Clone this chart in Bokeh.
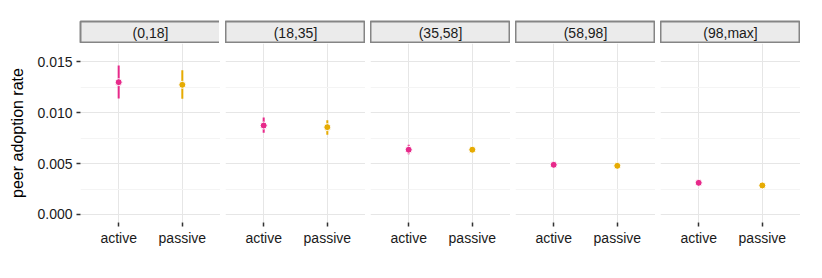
from bokeh.plotting import figure
from bokeh.layouts import gridplot
from bokeh.models import (ColumnDataSource, FactorRange, Range1d, FixedTicker,
                          NumeralTickFormatter)
from bokeh.core.properties import value
from bokeh.embed import file_html
from bokeh.resources import INLINE

# ---- data ----
bins = ["(0,18]", "(18,35]", "(35,58]", "(58,98]", "(98,max]"]
groups = ["active", "passive"]
active_mean = [0.01300, 0.00874, 0.00636, 0.00488, 0.00311]
active_lo = [0.01140, 0.00803, 0.00592, 0.00476, 0.00303]
active_hi = [0.01464, 0.00953, 0.00685, 0.00500, 0.00319]
passive_mean = [0.01274, 0.00858, 0.00636, 0.00478, 0.00285]
passive_lo = [0.01136, 0.00783, 0.00620, 0.00468, 0.00278]
passive_hi = [0.01418, 0.00926, 0.00652, 0.00488, 0.00292]
colors = ["#E7298A", "#E6AB02"]
y_ticks = [0.0, 0.005, 0.010, 0.015]
y_minor = [0.0025, 0.0075, 0.0125]

FONT = "Liberation Sans"
FW = 140
LEFT = 73

strips = []
panels = []
for i, b in enumerate(bins):
    left = LEFT if i == 0 else 0
    # strip
    s = figure(frame_width=FW, frame_height=22, x_range=Range1d(0, 1), y_range=Range1d(0, 1),
               output_backend="svg", toolbar_location=None, min_border=0,
               min_border_left=left, min_border_top=13)
    s.axis.visible = False
    s.grid.visible = False
    s.background_fill_color = "#EBEBEB"
    s.border_fill_color = "white"
    s.outline_line_color = "#858585"
    s.outline_line_width = 2
    s.text(x=[0.5], y=[0.5], text=[b], text_align="center", text_baseline="middle",
           text_font=value(FONT), text_font_size="14px", text_color="#1a1a1a")
    strips.append(s)

    # panel
    p = figure(frame_width=FW, frame_height=179,
               x_range=FactorRange(factors=groups, range_padding=0.1),
               y_range=Range1d(-0.00079, 0.0168),
               output_backend="svg", toolbar_location=None, min_border=0,
               min_border_left=left, min_border_bottom=5)
    p.background_fill_color = "white"
    p.border_fill_color = "white"
    p.outline_line_color = None

    src = ColumnDataSource(dict(
        g=groups,
        m=[active_mean[i], passive_mean[i]],
        lo=[active_lo[i], passive_lo[i]],
        hi=[active_hi[i], passive_hi[i]],
        c=colors,
    ))
    p.segment(x0="g", y0="lo", x1="g", y1="hi", source=src, line_color="c", line_width=2)
    p.scatter(x="g", y="m", source=src, size=7, fill_color="c", line_color="white", line_width=1)

    p.yaxis.ticker = FixedTicker(ticks=y_ticks, minor_ticks=y_minor)
    p.yaxis.formatter = NumeralTickFormatter(format="0.000")
    p.ygrid.grid_line_color = "#E6E6E6"
    p.ygrid.minor_grid_line_color = "#F4F4F4"
    p.xgrid.grid_line_color = "#E6E6E6"

    for ax in (p.xaxis, p.yaxis):
        ax.axis_line_color = None
        ax.major_tick_in = 0
        ax.major_tick_out = 4
        ax.major_tick_line_color = "#333333"
        ax.major_tick_line_width = 1.5
        ax.minor_tick_line_color = None
        ax.major_label_text_font = FONT
        ax.major_label_text_font_size = "14px"
        ax.major_label_text_color = "#1a1a1a"
    p.xaxis.major_label_standoff = 3
    p.yaxis.major_label_standoff = 4
    if i == 0:
        p.yaxis.axis_label = "peer adoption rate"
        p.yaxis.axis_label_text_font = FONT
        p.yaxis.axis_label_text_font_size = "16px"
        p.yaxis.axis_label_text_font_style = "normal"
        p.yaxis.axis_label_text_color = "#000000"
        p.yaxis.axis_label_standoff = 8
    else:
        p.yaxis.visible = False
    panels.append(p)

g = gridplot([strips, panels], toolbar_location=None)
g.spacing = (0, 5)
g.margin = (8, 0, 0, 6)

open("out.html", "w").write(file_html(g, INLINE))
